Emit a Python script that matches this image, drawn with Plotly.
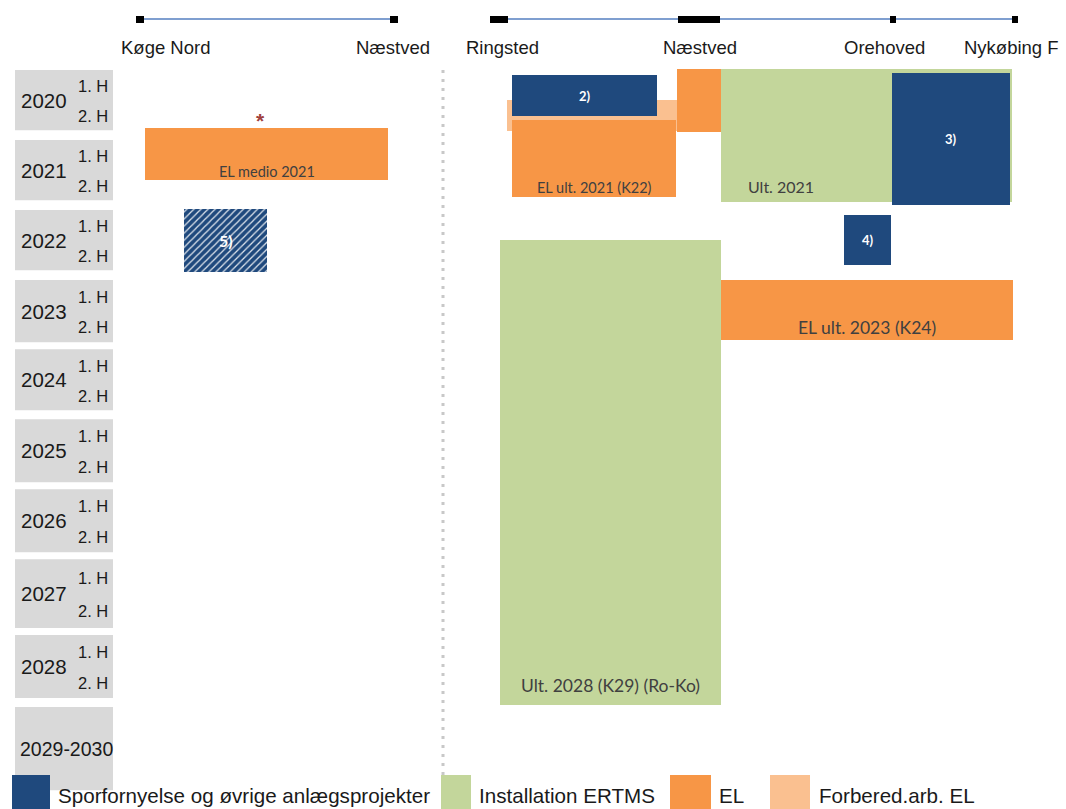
import plotly.graph_objects as go

# ---------------- data ----------------
# Stations (schematic line position)
left_stations = ["Køge Nord", "Næstved"]
left_station_pos = [140, 394]
left_label_pos = [165, 393]
right_stations = ["Ringsted", "Næstved", "Orehoved", "Nykøbing F"]
right_station_pos = [499, 699, 893, 1015]
right_label_pos = [502, 700, 884, 1011]

# Year rows (time axis in years)
year_labels = ["2020", "2021", "2022", "2023", "2024", "2025", "2026", "2027", "2028", "2029-2030"]
year_start = [2020.0, 2021.0, 2022.0, 2023.0, 2023.99, 2024.99, 2025.99, 2026.99, 2028.07, 2029.1]
year_end = [2020.86, 2021.86, 2022.86, 2023.89, 2024.86, 2025.89, 2026.89, 2027.97, 2028.97, 2030.29]
half_labels = ["1. H", "2. H"]

# Work packages
bar_names = ["Forbered 2)", "EL Næstved", "EL ult. 2021", "Spor 2)", "ERTMS 2021", "Spor 3)",
             "Spor 4)", "ERTMS 2028", "EL 2023", "EL medio 2021", "Spor 5)"]
bar_category = ["Forbered.arb. EL", "EL", "EL", "Sporfornyelse og øvrige anlægsprojekter",
                "Installation ERTMS", "Sporfornyelse og øvrige anlægsprojekter",
                "Sporfornyelse og øvrige anlægsprojekter", "Installation ERTMS", "EL", "EL",
                "Sporfornyelse og øvrige anlægsprojekter"]
bar_x0 = [507, 677, 512, 512, 721, 892, 844, 500, 721, 145, 184]
bar_x1 = [677, 721, 676, 657, 1012, 1010, 891, 721, 1013, 388, 267]
bar_t0 = [2020.43, 2019.99, 2020.71, 2020.07, 2019.99, 2020.04, 2022.07, 2022.43, 2023.0, 2020.83, 2021.99]
bar_t1 = [2020.87, 2020.89, 2021.81, 2020.66, 2021.89, 2021.93, 2022.79, 2029.07, 2023.86, 2021.57, 2022.89]
bar_text = ["", "", "EL ult. 2021 (K22)", "2)", "Ult. 2021", "3)", "4)",
            "Ult. 2028 (K29) (Ro-Ko)", "EL ult. 2023 (K24)", "EL medio 2021", "5)"]

legend_items = ["Sporfornyelse og øvrige anlægsprojekter", "Installation ERTMS", "EL", "Forbered.arb. EL"]

# ---------------- style ----------------
colors = {"Sporfornyelse og øvrige anlægsprojekter": "#1f497d",
          "Installation ERTMS": "#c3d69b",
          "EL": "#f79646",
          "Forbered.arb. EL": "#fac090"}
PX = 70.0  # pixels per year
T_TOP = 2019.0
W, H = 1066, 809
FONT = "Liberation Sans, Arial"


def t_of(py):
    return T_TOP + py / PX


# label style: (x mode, offset from bottom in px or 'mid', font size, color, bold)
label_style = {
    "EL ult. 2021": ("center", 9, 14.5, "#404040", False),
    "Spor 2)": ("center", "mid", 13, "white", True),
    "ERTMS 2021": (781, 16, 16, "#404040", False),
    "Spor 3)": ("center", "mid", 13, "white", True),
    "Spor 4)": ("center", "mid", 13, "white", True),
    "ERTMS 2028": ("center", 19, 17.5, "#404040", False),
    "EL 2023": ("center", 13, 17.5, "#404040", False),
    "EL medio 2021": ("center", 8, 14.5, "#404040", False),
    "Spor 5)": ("center", "mid", 16, "white", True),
}

fig = go.Figure()

# bars
for i, name in enumerate(bar_names):
    col = colors[bar_category[i]]
    marker = dict(color=col, line=dict(width=0))
    if name == "Spor 5)":
        marker["pattern"] = dict(shape="/", fgcolor="rgba(255,255,255,0.85)", bgcolor=col,
                                 size=5, solidity=0.25, fillmode="replace")
    fig.add_trace(go.Bar(
        orientation="h",
        base=[bar_x0[i]],
        x=[bar_x1[i] - bar_x0[i]],
        y=[(bar_t0[i] + bar_t1[i]) / 2],
        width=[bar_t1[i] - bar_t0[i]],
        marker=marker,
        showlegend=False,
        hoverinfo="skip",
        name=name,
    ))
    if bar_text[i]:
        xm, off, fs, fc, bold = label_style[name]
        x = (bar_x0[i] + bar_x1[i]) / 2 if xm == "center" else xm
        y = (bar_t0[i] + bar_t1[i]) / 2 if off == "mid" else bar_t1[i] - off / PX
        txt = f"<b>{bar_text[i]}</b>" if bold else bar_text[i]
        fig.add_annotation(x=x, y=y, xref="x", yref="y", text=txt, showarrow=False,
                           font=dict(size=fs, color=fc, family="Lato, Liberation Sans, Arial"),
                           xanchor="center", yanchor="middle")

# asterisk
fig.add_annotation(x=260, y=t_of(120), xref="x", yref="y", text="<b>*</b>", showarrow=False,
                   font=dict(size=21, color="#a0403c", family=FONT))

# station lines
for pos, labs, lpos in [(left_station_pos, left_stations, left_label_pos),
                        (right_station_pos, right_stations, right_label_pos)]:
    fig.add_trace(go.Scatter(x=[pos[0], pos[-1]], y=[t_of(19), t_of(19)], mode="lines",
                             line=dict(color="#7f9fd0", width=2), showlegend=False, hoverinfo="skip"))
    for lab, lp in zip(labs, lpos):
        fig.add_annotation(x=lp, y=t_of(47), xref="x", yref="y", text=lab, showarrow=False,
                           font=dict(size=18.5, color="#1a1a1a", family=FONT),
                           xanchor="center", yanchor="middle")

station_halfwidth = {"Køge Nord": 4, "Ringsted": 9, "Orehoved": 3, "Nykøbing F": 3}
all_st = list(zip(left_stations, left_station_pos)) + list(zip(right_stations, right_station_pos))
for idx, (st, p) in enumerate(all_st):
    hw = station_halfwidth.get(st, 4 if idx == 1 else 21)
    fig.add_shape(type="rect", xref="x", yref="y", x0=p - hw, x1=p + hw,
                  y0=t_of(16), y1=t_of(23), fillcolor="black", line=dict(width=0), layer="above")

# year boxes
for lab, ts, te in zip(year_labels, year_start, year_end):
    fig.add_shape(type="rect", xref="x", yref="y", x0=15, x1=113, y0=ts, y1=te,
                  fillcolor="#d9d9d9", line=dict(width=0), layer="below")
    if "-" in lab:
        fig.add_annotation(x=66, y=(ts + te) / 2, xref="x", yref="y", text=lab, showarrow=False,
                           font=dict(size=19.5, color="#1a1a1a", family=FONT),
                           xanchor="center", yanchor="middle")
    else:
        fig.add_annotation(x=44, y=(ts + te) / 2, xref="x", yref="y", text=lab, showarrow=False,
                           font=dict(size=20.5, color="#1a1a1a", family=FONT),
                           xanchor="center", yanchor="middle")
        for k, hl in enumerate(half_labels):
            frac = 0.27 if k == 0 else 0.76
            fig.add_annotation(x=93, y=ts + frac * (te - ts), xref="x", yref="y", text=hl,
                               showarrow=False,
                               font=dict(size=16.5, color="#1a1a1a", family=FONT),
                               xanchor="center", yanchor="middle")

# separator
fig.add_shape(type="line", xref="x", yref="y", x0=443, x1=443, y0=t_of(70), y1=t_of(795),
              line=dict(color="#c8c8c8", width=3, dash="3px,6px"))

# legend (manual)
legend_x = [(12, 50, 56), (441, 471, 477), (670, 711, 717), (770, 810, 817)]
for item, (a, b, tx) in zip(legend_items, legend_x):
    fig.add_shape(type="rect", xref="x", yref="y", x0=a, x1=b, y0=t_of(775), y1=t_of(809),
                  fillcolor=colors[item], line=dict(width=0))
    fig.add_annotation(x=tx, y=t_of(795), xref="x", yref="y", text=item, showarrow=False,
                       font=dict(size=20.6, color="#1a1a1a", family=FONT),
                       xanchor="left", yanchor="middle")

fig.update_layout(
    width=W, height=H,
    margin=dict(l=0, r=0, t=0, b=0),
    paper_bgcolor="white", plot_bgcolor="white",
    barmode="overlay",
    bargap=0,
    xaxis=dict(range=[0, W], visible=False, fixedrange=True),
    yaxis=dict(range=[t_of(H), T_TOP], visible=False, fixedrange=True),
)

fig.write_html("out.html", config={"displayModeBar": False},
               post_script="document.body.style.margin='0';")
